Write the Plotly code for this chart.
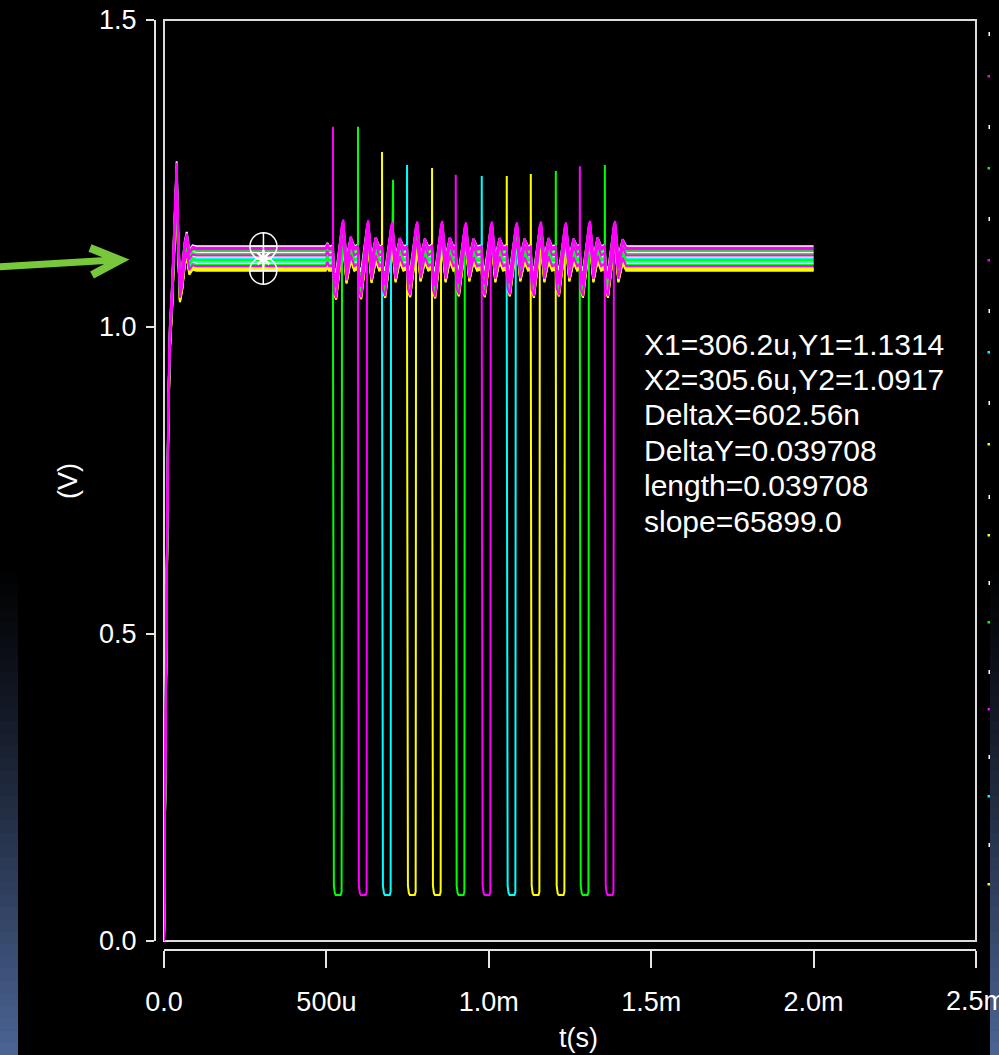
import plotly.graph_objects as go

# ---------------- page / frame geometry (pixels) ----------------
W, H = 999, 1055
FR_L, FR_R, FR_T, FR_B = 164, 976, 20, 941   # inner frame (plot area)
AXY_X = 155                                   # detached y-axis line
AXX_Y = 950                                   # detached x-axis line

# ---------------- data ----------------
x_tick_vals = [0.0, 0.5e-3, 1.0e-3, 1.5e-3, 2.0e-3, 2.5e-3]
x_tick_text = ["0.0", "500u", "1.0m", "1.5m", "2.0m", "2.5m"]
y_tick_vals = [0.0, 0.5, 1.0, 1.5]
y_tick_text = ["0.0", "0.5", "1.0", "1.5"]

# settled level of every waveform (V) and its colour, top to bottom
trace_colors = ["#ffffff", "#ff00ff", "#ff00ff", "#00ff00", "#ffffff", "#00ff00",
                "#ff00ff", "#ffffff", "#00ffff", "#00ff00", "#00ffff", "#ffffff",
                "#00ff00", "#ff00ff", "#ffff00", "#ffff00", "#ffff00", "#ffff00"]
trace_levels = [1.1314, 1.1290, 1.1265, 1.1240, 1.1215, 1.1190,
                1.1165, 1.1140, 1.1115, 1.1090, 1.1065, 1.1040,
                1.1015, 1.0990, 1.0965, 1.0945, 1.0930, 1.0917]
trace_gain = [0.95, 1.15, 1.15, 1.00, 0.95, 1.00,
              1.15, 0.95, 0.95, 1.00, 0.95, 0.95,
              1.00, 1.15, 1.05, 1.05, 1.05, 1.05]

# power-up transient (time in us, volts for a trace settling at startup_ref)
startup_t_us = [0, 4, 8, 13, 18, 25, 33, 39, 43, 49, 56, 64, 70, 78, 88, 100]
startup_v = [0.0, 0.35, 0.55, 0.85, 0.98, 1.05, 1.16, 1.25, 1.15, 1.06, 1.08,
             1.12, 1.135, 1.105, 1.113, 1.1115]
startup_ref = 1.1115

# common ringing on the supply (time in us, deviation from the settled level in V)
ring_t_us = [100, 498, 503, 508, 516,
             520, 523, 530, 538, 548, 552, 562, 575, 586,
             597, 600, 607, 615, 625, 629, 639, 652, 663,
             671, 674, 681, 689, 699, 703, 713, 726, 737,
             748, 751, 758, 766, 776, 780, 790, 803, 814,
             825, 828, 835, 843, 853, 857, 867, 880, 891,
             898, 901, 908, 916, 926, 930, 940, 953, 964,
             978, 981, 988, 996, 1006, 1010, 1020, 1033, 1044,
             1055, 1058, 1065, 1073, 1083, 1087, 1097, 1110, 1121,
             1129, 1132, 1139, 1147, 1157, 1161, 1171, 1184, 1195,
             1206, 1209, 1216, 1224, 1234, 1238, 1248, 1261, 1272,
             1280, 1283, 1290, 1298, 1308, 1312, 1322, 1335, 1346,
             1357, 1360, 1367, 1375, 1385, 1389, 1399, 1412, 1423,
             1440, 2000]
ring_dv = [0.0, 0.0, 0.006, 0.0, 0.0,
           0.003, -0.036, -0.045, -0.012, 0.034, 0.040, -0.020, 0.016, 0.0,
           0.003, -0.035, -0.044, -0.010, 0.033, 0.039, -0.019, 0.015, 0.0,
           0.002, -0.033, -0.042, -0.008, 0.031, 0.036, -0.018, 0.014, 0.0,
           0.002, -0.032, -0.041, -0.009, 0.032, 0.037, -0.017, 0.013, 0.0,
           0.003, -0.033, -0.043, -0.010, 0.033, 0.038, -0.018, 0.015, 0.0,
           0.002, -0.031, -0.040, -0.008, 0.031, 0.036, -0.017, 0.013, 0.0,
           0.002, -0.032, -0.041, -0.009, 0.032, 0.037, -0.018, 0.014, 0.0,
           0.002, -0.031, -0.040, -0.008, 0.031, 0.036, -0.017, 0.013, 0.0,
           0.002, -0.032, -0.042, -0.009, 0.032, 0.037, -0.018, 0.014, 0.0,
           0.002, -0.031, -0.041, -0.008, 0.031, 0.036, -0.017, 0.013, 0.0,
           0.003, -0.032, -0.042, -0.009, 0.033, 0.038, -0.018, 0.015, 0.0,
           0.003, -0.032, -0.042, -0.009, 0.033, 0.038, -0.018, 0.012, 0.0,
           0.0, 0.0]

# discharge events: start time (us) and which waveform drops low
event_t_us = [520, 597, 671, 748, 825, 898, 978, 1055, 1129, 1206, 1280, 1357]
event_dip_trace = [3, 1, 8, 14, 15, 5, 2, 10, 16, 17, 9, 6]
dip_len_us = 28
dip_dt_us = [0.5, 1.2, 3.0, 6.0, 9.0, 24.0, 26.8, 27.4]
dip_v = [0.50, 0.095, 0.090, 0.078, 0.075, 0.075, 0.080, 0.55]

# overshoot spikes: time (us), peak (V), waveform, base deviation (V)
spike_t_us = [520, 597, 671, 705, 748, 825, 898, 978, 1055, 1129, 1206, 1280, 1357]
spike_peak = [1.326, 1.326, 1.285, 1.240, 1.264, 1.259, 1.248, 1.246, 1.246,
              1.249, 1.254, 1.262, 1.264]
spike_trace = [13, 12, 14, 12, 10, 16, 13, 8, 15, 14, 3, 1, 5]
spike_base_dv = [0.003, 0.003, 0.002, 0.035, 0.002, 0.003, 0.002, 0.002, 0.002,
                 0.002, 0.002, 0.003, 0.003]

# measurement cursors
cursor_x = [306.2e-6, 305.6e-6]
cursor_y = [1.1314, 1.0917]
cursor_mid_x = [306.0e-6]
cursor_mid_y = [1.1116]
readout = ["X1=306.2u,Y1=1.1314", "X2=305.6u,Y2=1.0917", "DeltaX=602.56n",
           "DeltaY=0.039708", "length=0.039708", "slope=65899.0"]

# cropped legend at right edge
legend_colors = ["#ffffff", "#ff00ff", "#ffffff", "#00ff00", "#ffffff", "#ff00ff",
                 "#ffffff", "#00ffff", "#ffffff", "#ffff00", "#ffffff", "#ffff00",
                 "#ffffff", "#00ff00", "#ffffff", "#ff00ff", "#ffffff", "#00ffff",
                 "#ffffff", "#ffff00"]
LEGEND_Y_PX = [34, 76, 127, 168, 219, 260, 311, 352, 403, 444, 497, 535,
               583, 622, 672, 709, 757, 796, 845, 884]
READOUT_X_PX = 642
READOUT_Y0_PX, READOUT_DY_PX = 344, 35.4

# ---------------- build waveforms ----------------
def build(i):
    lvl, g = trace_levels[i], trace_gain[i]
    pts = []
    for t, v in zip(startup_t_us, startup_v):
        pts.append((t, max(0.0, v + (lvl - startup_ref))))
    for t, dv in zip(ring_t_us, ring_dv):
        if t > startup_t_us[-1]:
            pts.append((t, lvl + g * dv))
    for te, k in zip(event_t_us, event_dip_trace):
        if k == i:
            pts = [p for p in pts if not (te < p[0] < te + dip_len_us)]
            for dt, v in zip(dip_dt_us, dip_v):
                pts.append((te + dt, v))
    for ts, pk, k, b in zip(spike_t_us, spike_peak, spike_trace, spike_base_dv):
        if k == i:
            pts.append((ts + 0.3, pk))
            pts.append((ts + 0.7, lvl + g * b))
    pts.sort(key=lambda p: p[0])
    return [p[0] * 1e-6 for p in pts], [p[1] for p in pts]

# ---------------- figure ----------------
ML, MR, MT, MB = AXY_X, W - FR_R, FR_T, H - AXX_Y
PW, PH = FR_R - ML, AXX_Y - MT

def px(x):
    return (x - ML) / PW

def py(y):
    return (AXX_Y - y) / PH

FONT = "Liberation Sans, Arial, Helvetica, sans-serif"
fig = go.Figure()

color_rank = {"#ffffff": 0, "#ffff00": 1, "#00ffff": 2, "#00ff00": 3, "#ff00ff": 4}
order = sorted(range(len(trace_levels)), key=lambda i: color_rank[trace_colors[i]])
for i in order:
    xs, ys = build(i)
    fig.add_trace(go.Scatter(x=xs, y=ys, mode="lines",
                             line=dict(color=trace_colors[i], width=2),
                             hoverinfo="skip", showlegend=False))

fig.add_trace(go.Scatter(x=cursor_x, y=cursor_y, mode="markers",
                         marker=dict(symbol="circle-cross-open", size=27, color="white",
                                     line=dict(width=1.5, color="white")),
                         hoverinfo="skip", showlegend=False))
fig.add_trace(go.Scatter(x=cursor_mid_x, y=cursor_mid_y, mode="markers",
                         marker=dict(symbol="asterisk-open", size=14, color="white",
                                     line=dict(width=2.5, color="white")),
                         hoverinfo="skip", showlegend=False))

shapes = []
# inner frame
shapes.append(dict(type="rect", xref="paper", yref="paper",
                   x0=px(FR_L), x1=1, y0=py(FR_B), y1=1,
                   line=dict(color="#dcdcdc", width=2), layer="below"))
# green pointer arrow
ARROW = "#78c83c"
shapes.append(dict(type="path", xref="paper", yref="paper",
                   path=f"M{px(-4)},{py(267)} L{px(114)},{py(260)}",
                   line=dict(color=ARROW, width=7), layer="above"))
shapes.append(dict(type="path", xref="paper", yref="paper",
                   path=f"M{px(90)},{py(248)} L{px(120)},{py(260)} L{px(92)},{py(275)}",
                   line=dict(color=ARROW, width=8), layer="above"))
# cropped legend samples
for c, yc in zip(legend_colors, LEGEND_Y_PX):
    if c == "#ffffff":
        x0, x1, y0, y1 = 988.5, 990, yc - 2, yc + 2
    else:
        x0, x1, y0, y1 = 987.5, 990, yc - 1, yc + 1.5
    shapes.append(dict(type="rect", xref="paper", yref="paper",
                       x0=px(x0), x1=px(x1), y0=py(y1), y1=py(y0),
                       fillcolor=c, line=dict(width=0), layer="above"))
# slide background strips (gradient)
N = 40
G0, G1 = 560, H
for k in range(N):
    ya, yb = G0 + (G1 - G0) * k / N, G0 + (G1 - G0) * (k + 1) / N + 0.6
    f = ((k + 0.5) / N) ** 1.15
    col = f"rgb({int(76 * f)},{int(101 * f)},{int(150 * f)})"
    for xa, xb in ((-2, 18), (990, 1001)):
        shapes.append(dict(type="rect", xref="paper", yref="paper",
                           x0=px(xa), x1=px(xb), y0=py(yb), y1=py(ya),
                           fillcolor=col, line=dict(width=0), layer="above"))

annotations = []
for j, line in enumerate(readout):
    annotations.append(dict(text=line, xref="paper", yref="paper",
                            x=px(READOUT_X_PX), y=py(READOUT_Y0_PX + j * READOUT_DY_PX),
                            xanchor="left", yanchor="middle", align="left",
                            showarrow=False,
                            font=dict(family=FONT, size=30, color="white")))
annotations += [
    dict(text="t(s)", xref="paper", yref="paper", x=px(578), y=py(1038),
         xanchor="center", yanchor="middle", showarrow=False,
         font=dict(family=FONT, size=27, color="white")),
    dict(text="(V)", xref="paper", yref="paper", x=px(68), y=py(481),
         xanchor="center", yanchor="middle", textangle=-90, showarrow=False,
         font=dict(family=FONT, size=27, color="white")),
    # last x tick label (overflows the page edge, so placed explicitly)
    dict(text=x_tick_text[-1], xref="x", yref="paper", x=x_tick_vals[-1], y=py(1001),
         xanchor="center", yanchor="middle", showarrow=False,
         font=dict(family=FONT, size=27, color="white")),
]

AX = "#e4e4e4"
fig.update_layout(
    width=W, height=H,
    margin=dict(l=ML, r=MR, t=MT, b=MB, pad=0, autoexpand=False),
    paper_bgcolor="black", plot_bgcolor="black",
    font=dict(family=FONT, size=27, color="white"),
    showlegend=False,
    xaxis=dict(domain=[px(FR_L), 1], range=[0, 2.5e-3], anchor="free", position=0,
               showline=True, linecolor=AX, linewidth=2,
               ticks="outside", ticklen=17, tickwidth=2, tickcolor=AX,
               tickvals=x_tick_vals, ticktext=x_tick_text[:-1] + [""],
               ticklabelstandoff=11,
               tickfont=dict(family=FONT, size=27, color="white"),
               showgrid=False, zeroline=False, fixedrange=True, automargin=False),
    yaxis=dict(domain=[py(FR_B), 1], range=[0, 1.5], anchor="free", position=0,
               showline=True, linecolor=AX, linewidth=2,
               ticks="outside", ticklen=8, tickwidth=2, tickcolor=AX,
               tickvals=y_tick_vals, ticktext=y_tick_text, ticklabelstandoff=4,
               tickfont=dict(family=FONT, size=27, color="white"),
               showgrid=False, zeroline=False, fixedrange=True, automargin=False),
    shapes=shapes, annotations=annotations,
)

fig.write_html("out.html", config={"displayModeBar": False})
